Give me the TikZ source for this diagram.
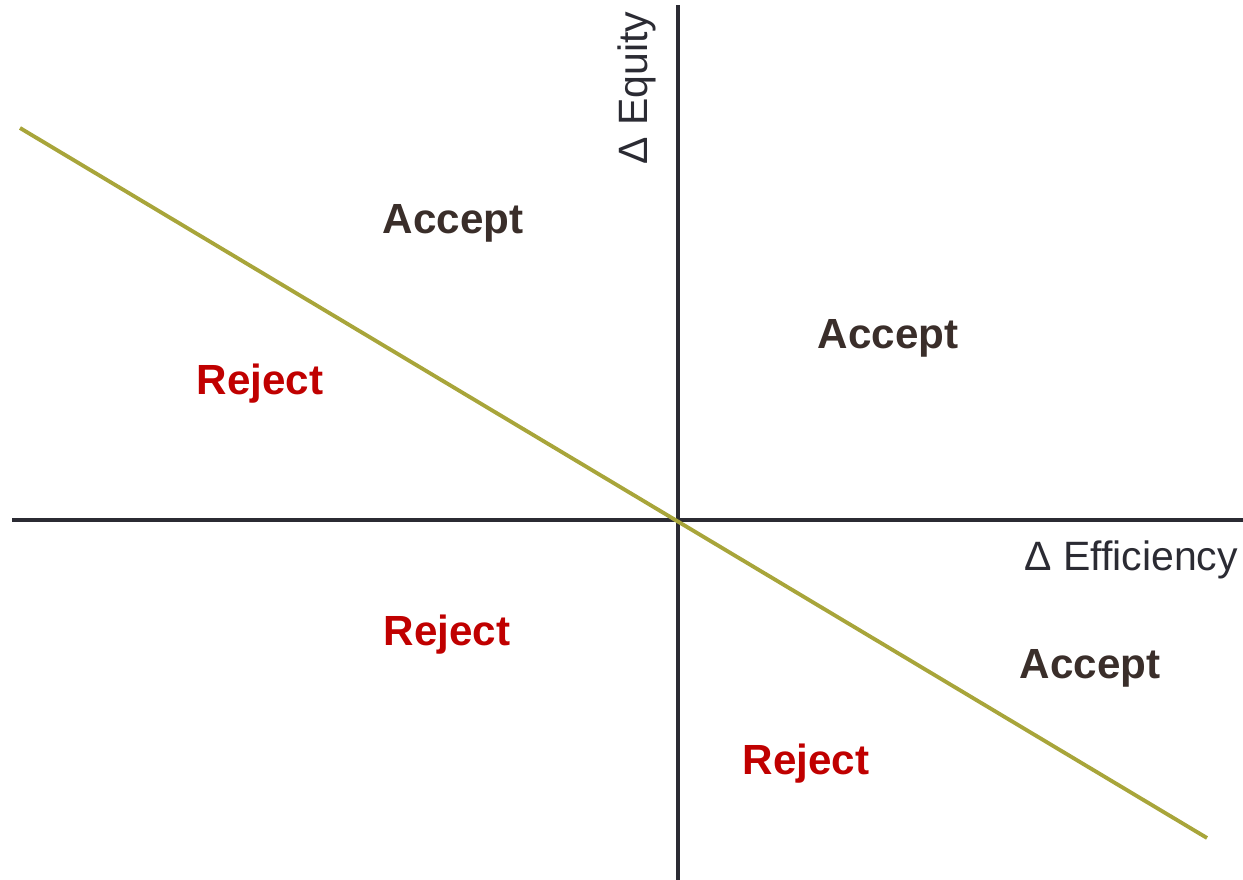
\documentclass[tikz,border=0pt]{standalone}
\usepackage{fontspec}
\setmainfont{Liberation Sans}
\definecolor{axisgray}{HTML}{2B2B33}
\definecolor{acceptbrown}{HTML}{3A2E2A}
\definecolor{rejectred}{HTML}{C00000}
\definecolor{lineolive}{HTML}{A8A53A}

\begin{document}
\begin{tikzpicture}[x=0.03cm,y=0.03cm,
    accept/.style={font=\fontsize{36}{42}\selectfont\bfseries,text=acceptbrown},
    reject/.style={font=\fontsize{36}{42}\selectfont\bfseries,text=rejectred},
    axislabel/.style={font=\fontsize{35}{42}\selectfont,text=axisgray}]
                \useasboundingbox (0,0) rectangle (1243,880);
                \coordinate (xl) at (12,360);
                \coordinate (xr) at (1243,360);
                \coordinate (yb) at (678,0);
                \coordinate (yt) at (678,875);
                \coordinate (dl) at (20,752);
                \coordinate (dr) at (1207,42);
                \draw[axisgray,line width=4.2pt] (xl) -- (xr);
                \draw[axisgray,line width=4.2pt] (yb) -- (yt);
                \draw[lineolive,line width=3.3pt] (dl) -- (dr);
                \node[axislabel,rotate=90] (equity) at (637,792) {Δ Equity};
                \node[axislabel,anchor=east] (efficiency) at (1242,320) {Δ Efficiency};
                \node[accept] (acc1) at (453,657) {Accept};
                \node[accept] (acc2) at (888,542) {Accept};
                \node[accept] (acc3) at (1090,212) {Accept};
                \node[reject] (rej1) at (260,496) {Reject};
                \node[reject] (rej2) at (447,245) {Reject};
                \node[reject] (rej3) at (806,116) {Reject};
            \end{tikzpicture}
\end{document}
